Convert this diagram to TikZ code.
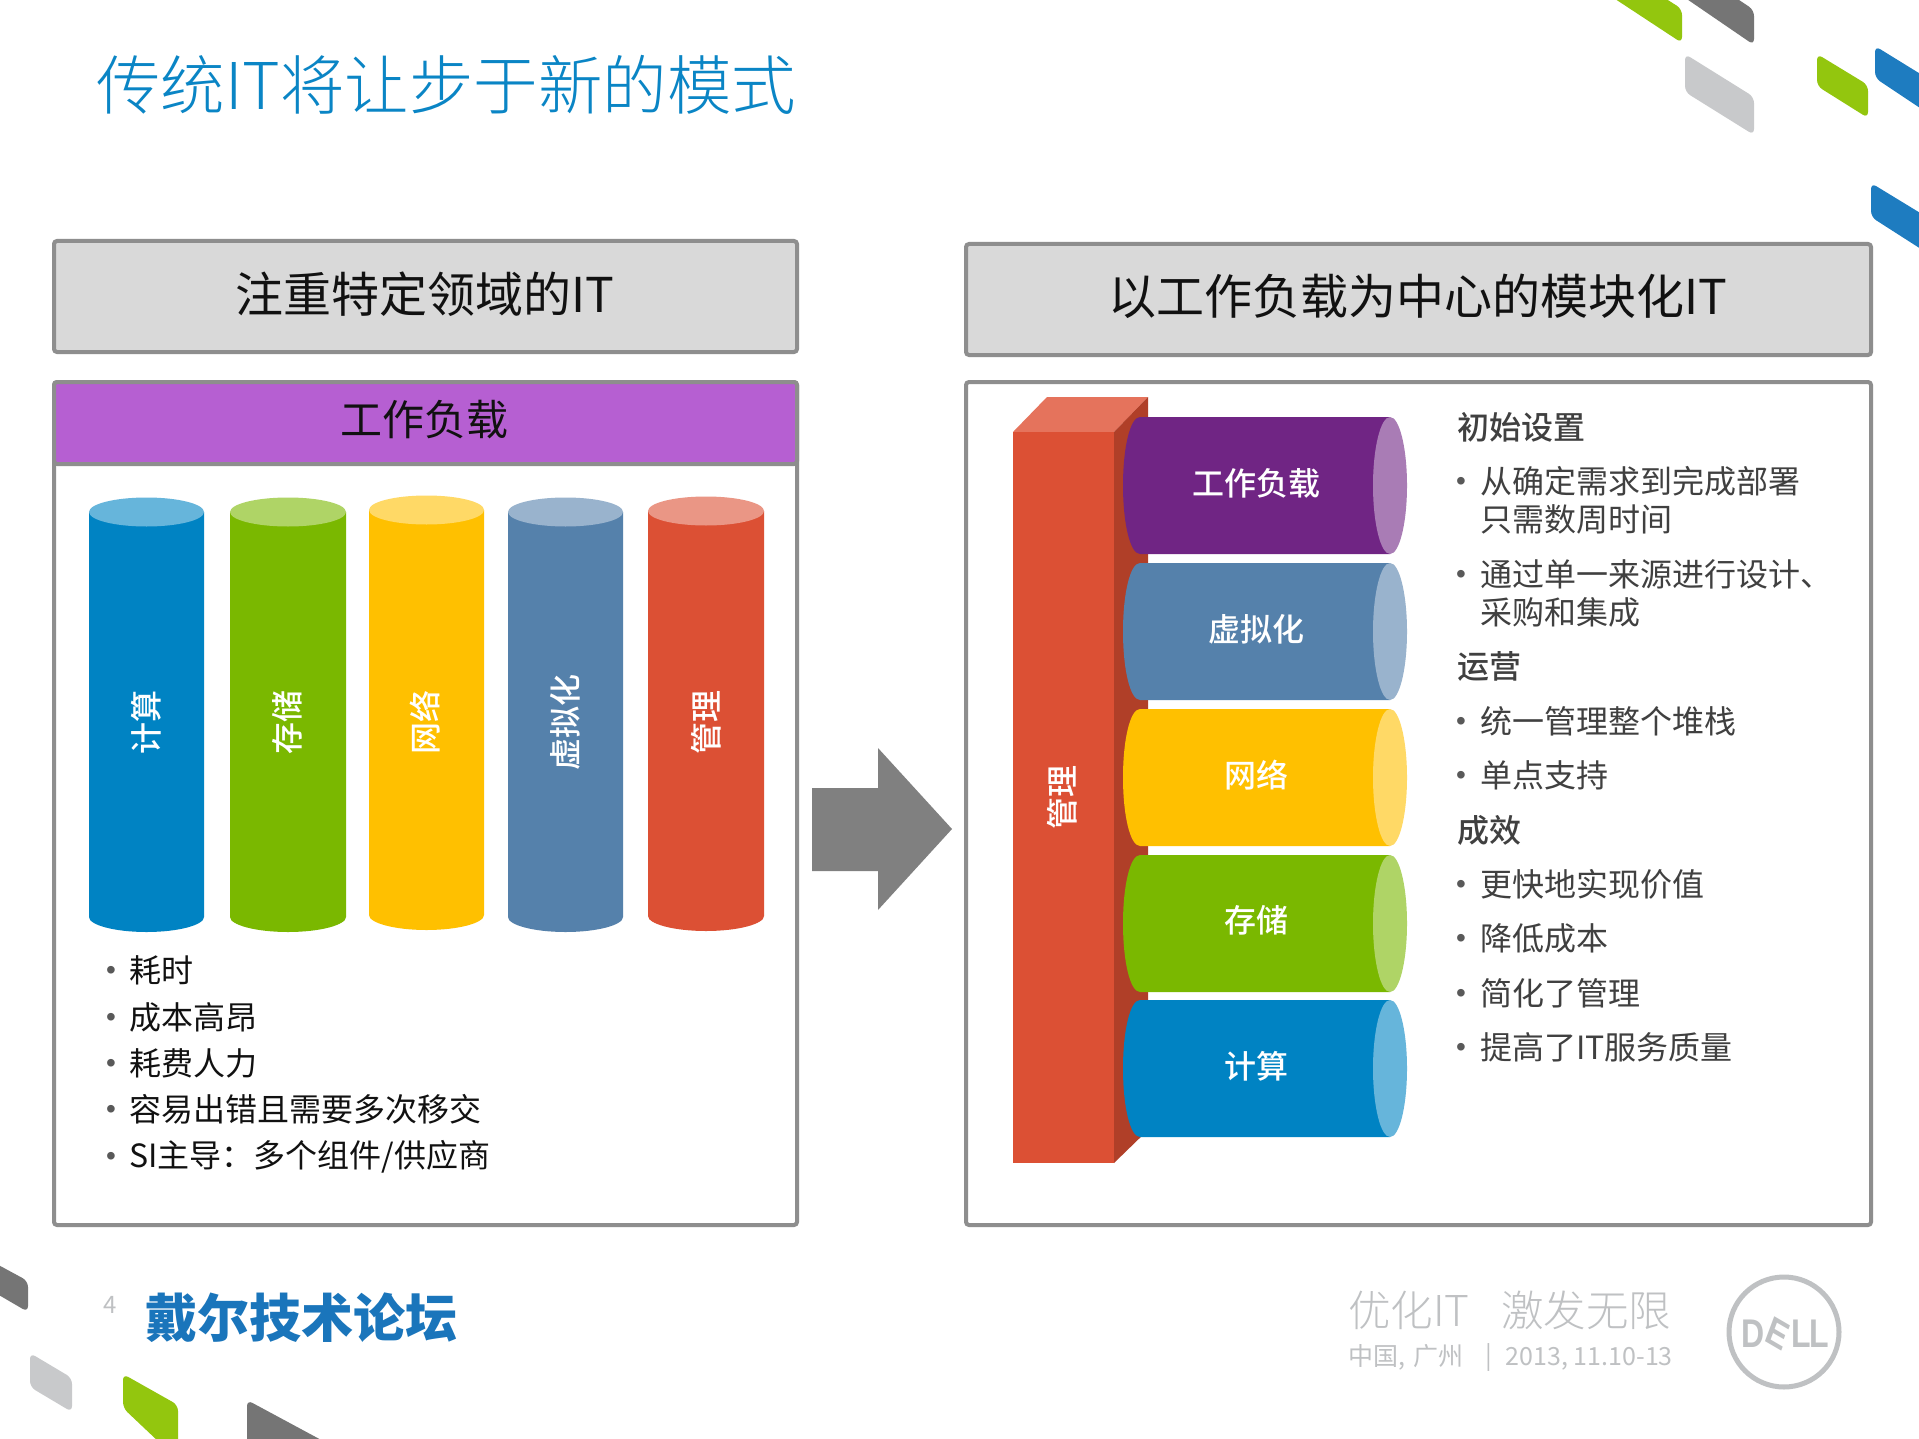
\documentclass[tikz,border=0pt]{standalone}
\usepackage{fontspec}
\setmainfont{Noto Sans CJK SC}[BoldFont=* Medium]
\newfontfamily\lightf{Noto Sans CJK SC Light}
\newfontfamily\blackf{Noto Sans CJK SC Black}
\newfontfamily\dellf{Liberation Sans}[BoldFont=* Bold]
\usetikzlibrary{shapes.geometric}
\definecolor{frameg}{HTML}{8E8E8E}
\definecolor{headg}{HTML}{D9D9D9}
\definecolor{purpbar}{HTML}{B65FD2}
\definecolor{cblue}{HTML}{0083C3}\definecolor{cbluel}{HTML}{66B5DB}
\definecolor{cgreen}{HTML}{7AB800}\definecolor{cgreenl}{HTML}{AFD466}
\definecolor{cyell}{HTML}{FFC000}\definecolor{cyelll}{HTML}{FFD966}
\definecolor{cslate}{HTML}{5581AB}\definecolor{cslatel}{HTML}{99B3CD}
\definecolor{cred}{HTML}{DC5034}\definecolor{credl}{HTML}{EA9685}
\definecolor{cpurp}{HTML}{702584}\definecolor{cpurpl}{HTML}{A97CB5}
\definecolor{cardtop}{HTML}{E5735C}\definecolor{cardside}{HTML}{B03F28}
\definecolor{titleb}{HTML}{0A85C5}
\definecolor{decog}{HTML}{93C60E}\definecolor{decod}{HTML}{757575}
\definecolor{decol}{HTML}{C8C9CB}\definecolor{decob}{HTML}{1E7CC0}
\definecolor{footg}{HTML}{BFC1C3}
\definecolor{logob}{HTML}{1A75BB}
\definecolor{bodyt}{HTML}{111111}
\definecolor{bodyg}{HTML}{404040}
\definecolor{bulg}{HTML}{595959}
\tikzset{
  x=1pt,y=-1pt,
  panel/.style={draw=frameg,line width=4pt,rounded corners=3pt},
  txt/.style={inner sep=0pt,text=bodyt,execute at begin node={\rule{0pt}{0.88em}\rule[-0.12em]{0pt}{0.12em}}},
  body/.style={txt,anchor=west,font=\fontsize{32}{32}\selectfont},
  bodyr/.style={body,text=bodyg},
  headr/.style={body,text=bodyg,font=\bfseries\fontsize{32}{32}\selectfont},
  bulltxt/.style={inner sep=0pt,text=bulg,font=\dellf\fontsize{28}{28}\selectfont},
  headtxt/.style={txt,font=\fontsize{#1}{#1}\selectfont},
  cyltxt/.style={txt,text=white,font=\bfseries\fontsize{32}{32}\selectfont},
  foottxt/.style={txt,text=footg,font=\fontsize{#1}{#1}\selectfont},
  delltxt/.style={txt,text=footg,font=\dellf\bfseries\fontsize{40}{40}\selectfont,xscale=.8},
  deco/.style={fill=#1,rounded corners=6pt}
}
\newcommand{\vcyl}[5]{% x-left, x-right, y-top-centre, main, light
  \fill[#4] (#1,#3) -- (#1,#3+405) .. controls (#1,#3+413) and ({(#1+#2)/2-32},#3+420) .. ({(#1+#2)/2},#3+420)
    .. controls ({(#1+#2)/2+32},#3+420) and (#2,#3+413) .. (#2,#3+405) -- (#2,#3) -- cycle;
  \fill[#5] ({(#1+#2)/2},#3) ellipse [x radius={(#2-#1)/2*1pt},y radius=14.5pt];
}
\newcommand{\hcyl}[3]{% y-top, main, light
  \fill[#2] (1390,#1) -- (1140,#1) .. controls (1130,#1) and (1123,#1+31) .. (1123,#1+68.5)
    .. controls (1123,#1+106) and (1130,#1+137) .. (1140,#1+137) -- (1390,#1+137) -- cycle;
  \fill[#3] (1390,#1+68.5) ellipse [x radius=17pt,y radius=68.5pt];
}
\newcommand{\bul}[4]{% name, text x, y, text
  \node[bulltxt] (#1b) at (#2-18,#3+3) {•};
  \node[body] (#1) at (#2,#3) {#4};
}
\newcommand{\bulr}[4]{%
  \node[bulltxt] (#1b) at (#2-19,#3+3) {•};
  \node[bodyr] (#1) at (#2,#3) {#4};
}
\begin{document}
\begin{tikzpicture}
\useasboundingbox[fill=white] (0,0) rectangle (1919,1439);
% corner decoration
\begin{scope}
\clip (0,0) rectangle (1919,1439);
\fill[deco=decog] (1606,-7) -- (1652,-10) -- (1682,9) -- (1682,43) -- cycle;
\fill[deco=decod] (1678,-7) -- (1724,-10) -- (1754,10) -- (1754,45) -- cycle;
\fill[deco=decol] (1685,54) -- (1754,97) -- (1754,135) -- (1685,92) -- cycle;
\fill[deco=decog] (1817,54) -- (1868,85) -- (1868,118) -- (1817,86) -- cycle;
\fill[deco=decob] (1875,46) -- (1935,83) -- (1935,118) -- (1875,78) -- cycle;
\fill[deco=decob] (1871,183) -- (1935,222) -- (1935,258) -- (1871,217) -- cycle;
\fill[deco=decod] (-20,1255) -- (28,1281) -- (28,1312) -- (-20,1284) -- cycle;
\fill[deco=decol] (30,1353) -- (72,1378) -- (72,1412) -- (30,1387) -- cycle;
\fill[deco=decog] (123,1374) -- (178,1405) -- (178,1460) -- (123,1408) -- cycle;
\fill[deco=decod] (247,1400) -- (325,1442) -- (325,1470) -- (247,1470) -- cycle;
\end{scope}
% title
\node[txt,anchor=west,text=titleb,font=\lightf\fontsize{64.5}{65}\selectfont] (title) at (96,85) {传统IT将让步于新的模式};
% header boxes
\draw[panel,fill=headg] (54,241) rectangle (797,352);
\node[headtxt=48] (lefthead) at (425,294) {注重特定领域的IT};
\draw[panel,fill=headg] (966,244) rectangle (1871,355);
\node[headtxt=48] (righthead) at (1418,296) {以工作负载为中心的模块化IT};
% left panel
\draw[panel] (54,382) rectangle (797,1225);
\draw[panel,fill=purpbar] (54,382) rectangle (797,464);
\node[headtxt=42] (leftwork) at (424,420) {工作负载};
\vcyl{89}{204}{512}{cblue}{cbluel}
\vcyl{230}{346}{512}{cgreen}{cgreenl}
\vcyl{369}{484}{510}{cyell}{cyelll}
\vcyl{508}{623}{512}{cslate}{cslatel}
\vcyl{648}{764}{511}{cred}{credl}
\node[cyltxt,rotate=90] (c1) at (146,722) {计算};
\node[cyltxt,rotate=90] (c2) at (287,722) {存储};
\node[cyltxt,rotate=90] (c3) at (425,722) {网络};
\node[cyltxt,rotate=90] (c4) at (565,722) {虚拟化};
\node[cyltxt,rotate=90] (c5) at (706,722) {管理};
\bul{l1}{129}{970}{耗时}
\bul{l2}{129}{1017}{成本高昂}
\bul{l3}{129}{1063}{耗费人力}
\bul{l4}{129}{1109}{容易出错且需要多次移交}
\bul{l5}{129}{1156}{SI主导：多个组件/供应商}
% arrow
\fill[decod!92!white] (812,788) -- (878,788) -- (878,748) -- (952,829) -- (878,910) -- (878,871) -- (812,871) -- cycle;
% right panel
\draw[panel] (966,382) rectangle (1871,1225);
\fill[cardtop] (1013,432) -- (1047,397) -- (1148,397) -- (1114,432) -- cycle;
\fill[cardside] (1114,432) -- (1148,397) -- (1148,1130) -- (1114,1163) -- cycle;
\fill[cred] (1013,432) rectangle (1114,1163);
\node[cyltxt,rotate=90] (mgmt) at (1062,797) {管理};
\hcyl{417}{cpurp}{cpurpl}
\hcyl{563}{cslate}{cslatel}
\hcyl{709}{cyell}{cyelll}
\hcyl{855}{cgreen}{cgreenl}
\hcyl{1000}{cblue}{cbluel}
\node[cyltxt] (r1) at (1256,483) {工作负载};
\node[cyltxt] (r2) at (1256,629) {虚拟化};
\node[cyltxt] (r3) at (1256,775) {网络};
\node[cyltxt] (r4) at (1256,920) {存储};
\node[cyltxt] (r5) at (1256,1066) {计算};
\node[headr] (h1) at (1457,427) {初始设置};
\bulr{a1}{1480}{481}{从确定需求到完成部署}
\node[bodyr] (a1x) at (1480,519) {只需数周时间};
\bulr{a2}{1480}{574}{通过单一来源进行设计、}
\node[bodyr] (a2x) at (1480,612) {采购和集成};
\node[headr] (h2) at (1457,666) {运营};
\bulr{b1}{1480}{721}{统一管理整个堆栈}
\bulr{b2}{1480}{775}{单点支持}
\node[headr] (h3) at (1457,830) {成效};
\bulr{d1}{1480}{884}{更快地实现价值}
\bulr{d2}{1480}{938}{降低成本}
\bulr{d3}{1480}{993}{简化了管理}
\bulr{d4}{1480}{1047}{提高了IT服务质量}
% footer
\node[foottxt=24] (pageno) at (110,1304) {4};
\node[txt,anchor=west,text=logob,font=\blackf\fontsize{52}{52}\selectfont] (logo) at (145,1318) {戴尔技术论坛};
\node[txt,anchor=west,text=footg,font=\lightf\fontsize{42.5}{43}\selectfont] (slogan) at (1348,1310) {优化IT\hspace{0.75em}激发无限};
\node[foottxt=25,anchor=west] (place) at (1348,1357) {中国,\hspace{0.35em}广州};
\node[foottxt=25] (bar) at (1489,1357) {|};
\node[foottxt=25,anchor=east] (date) at (1673,1357) {2013, 11.10-13};
\draw[footg,line width=5pt] (1784,1332) circle [radius=55pt];
\node[delltxt] (dd) at (1753,1332) {D};
\node[delltxt,rotate=-25] (de) at (1778,1332) {E};
\node[delltxt] (dl1) at (1801,1332) {L};
\node[delltxt] (dl2) at (1819,1332) {L};
\end{tikzpicture}
\end{document}
